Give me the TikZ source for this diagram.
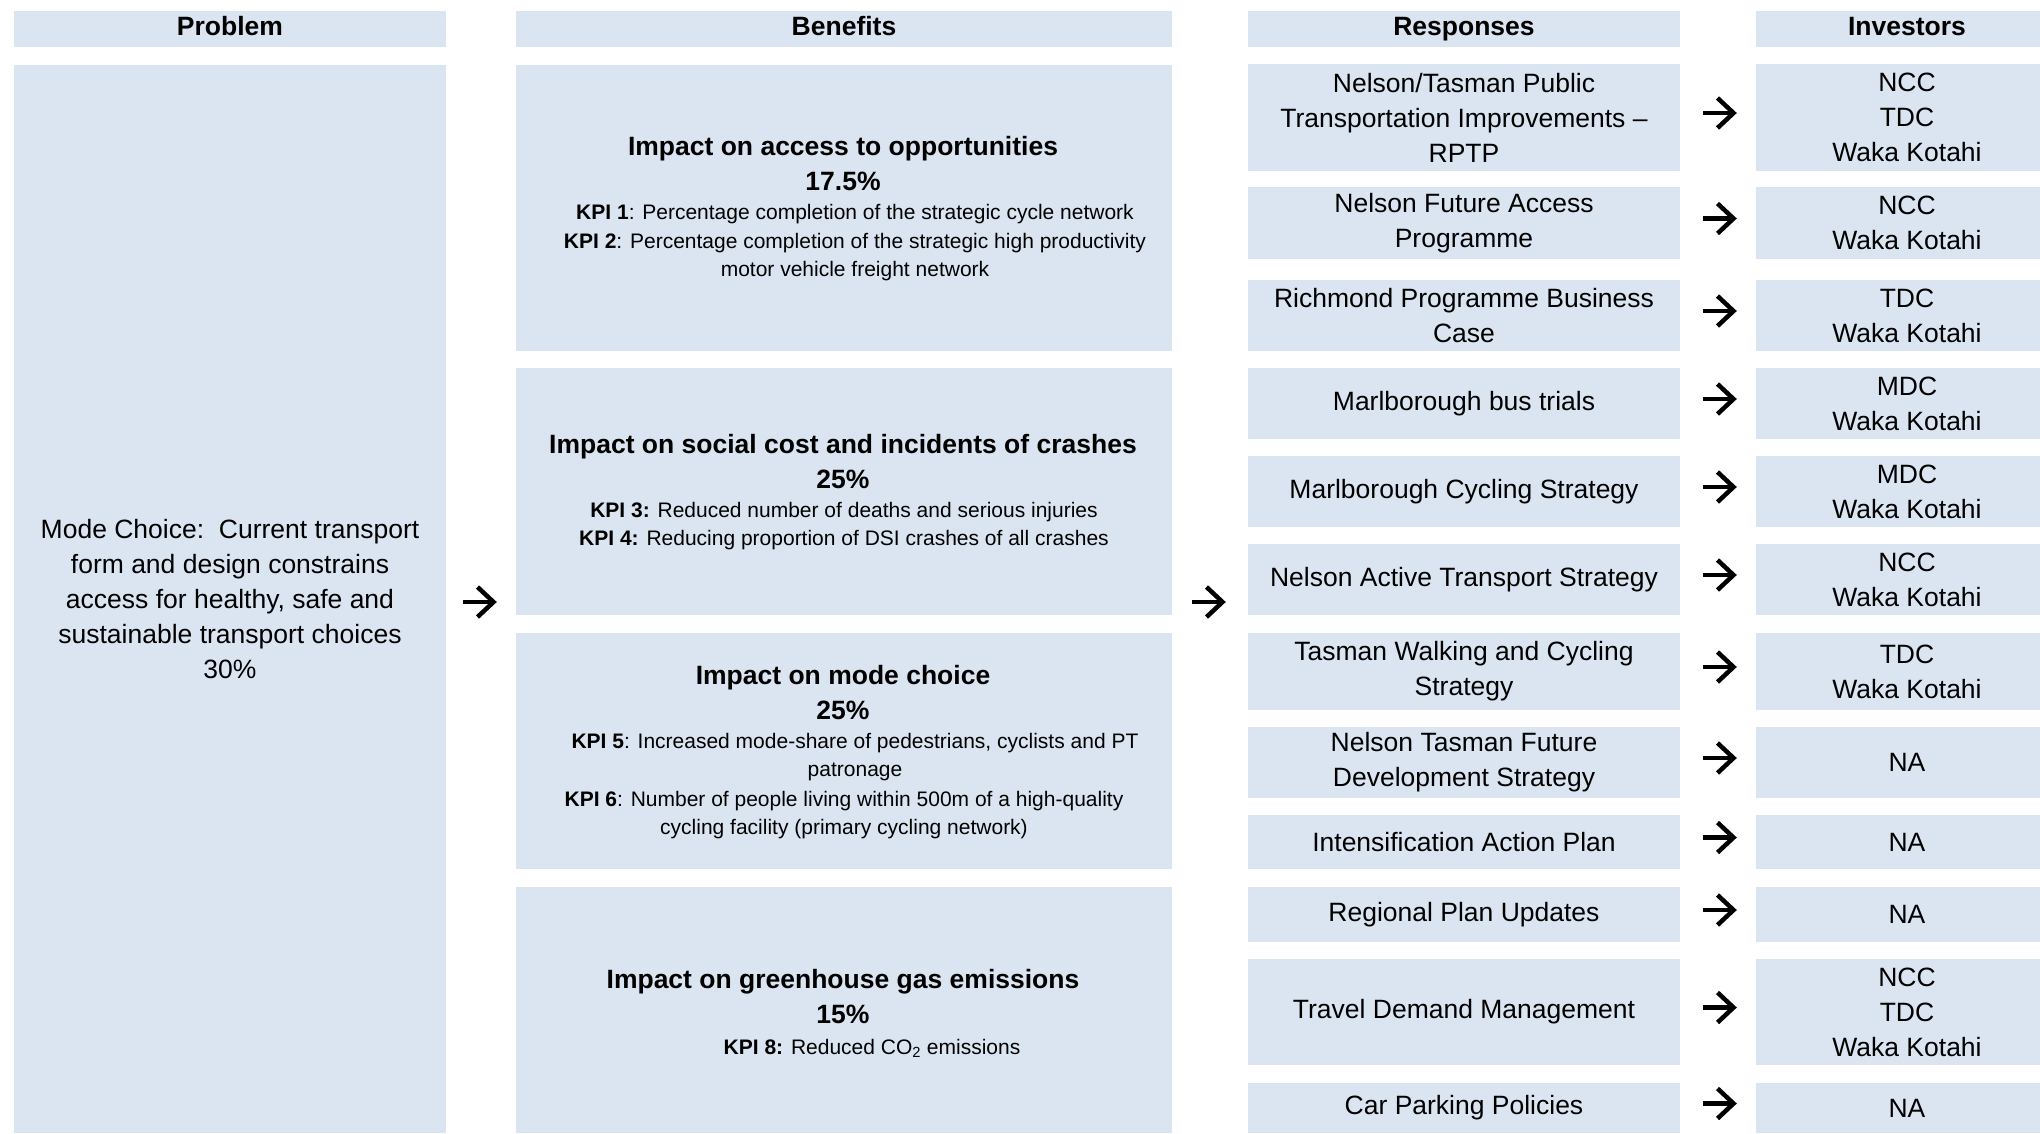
\documentclass[tikz,border=0pt]{standalone}
\usepackage{fontspec}
\setmainfont{Liberation Sans}
\usetikzlibrary{arrows.meta}
\definecolor{boxfill}{HTML}{DBE5F1}
\newcommand\mainsz{\fontsize{26.5pt}{35pt}\selectfont}
\newcommand\kpisz{\fontsize{21pt}{28.5pt}\selectfont}
\begin{document}
\begin{tikzpicture}[x=1pt,y=-1pt,
  box/.style={fill=boxfill, draw=none, inner sep=0pt, align=center, font=\mainsz},
  hdr/.style={box, font=\mainsz\bfseries, minimum height=36pt, text height=19pt, text depth=6pt},
  ttl/.style={font=\mainsz\bfseries, align=center, inner sep=0pt},
  kpi/.style={font=\kpisz, align=center, inner sep=0pt},
  arr/.style={line width=4.5pt, -{Straight Barb[length=16pt,width=30pt,line width=4.5pt]}}]
\useasboundingbox (0,0) rectangle (2040,1133);
\fill[white] (0,0) rectangle (2040,1133);
\clip (0,0) rectangle (2040,1133);

% headers
\node[hdr, minimum width=432pt] (ph) at (230,29) {Problem};
\node[hdr, minimum width=656pt] (bh) at (844,29) {Benefits};
\node[hdr, minimum width=432pt] (rh) at (1464,29) {Responses};
\node[hdr, minimum width=302pt] (ih) at (1907,29) {Investors};

% problem
\node[box, minimum width=432pt, minimum height=1068pt] (prob) at (230,599)
  {Mode Choice:\ \ Current transport\\form and design constrains\\access for healthy, safe and\\sustainable transport choices\\30\%};

% benefits
\node[box, minimum width=656pt, minimum height=286pt] (b1) at (844,207.5) {};
\node[box, minimum width=656pt, minimum height=247pt] (b2) at (844,491.5) {};
\node[box, minimum width=656pt, minimum height=236pt] (b3) at (844,751) {};
\node[box, minimum width=656pt, minimum height=246pt] (b4) at (844,1010) {};

\node[ttl] (b1t) at (843,163.5) {Impact on access to opportunities\\17.5\%};
\node[kpi] (b1k) at (855,243) {\textbf{KPI 1}: Percentage completion of the strategic cycle network\\\textbf{KPI 2}: Percentage completion of the strategic high productivity\\motor vehicle freight network};
\node[ttl] (b2t) at (843,461.5) {Impact on social cost and incidents of crashes\\25\%};
\node[kpi] (b2k) at (844,526) {\textbf{KPI 3:} Reduced number of deaths and serious injuries\\\textbf{KPI 4:} Reducing proportion of DSI crashes of all crashes};
\node[ttl] (b3t) at (843,693) {Impact on mode choice\\25\%};
\node[kpi] (b3k5) at (855,757) {\textbf{KPI 5}: Increased mode-share of pedestrians, cyclists and PT\\patronage};
\node[kpi] (b3k6) at (844,815) {\textbf{KPI 6}: Number of people living within 500m of a high-quality\\cycling facility (primary cycling network)};
\node[ttl] (b4t) at (843,997) {Impact on greenhouse gas emissions\\15\%};
\node[kpi] (b4k) at (872,1048) {\textbf{KPI 8:} Reduced CO\textsubscript{2} emissions};

% responses
\node[box, minimum width=432pt, minimum height=107pt] (r1) at (1464,117.5) {Nelson/Tasman Public\\Transportation Improvements \textendash\\RPTP};
\node[box, minimum width=432pt, minimum height=72pt] (r2) at (1464,223) {Nelson Future Access\\Programme};
\node[box, minimum width=432pt, minimum height=71pt] (r3) at (1464,315.5) {Richmond Programme Business\\Case};
\node[box, minimum width=432pt, minimum height=71pt] (r4) at (1464,403.5) {Marlborough bus trials};
\node[box, minimum width=432pt, minimum height=71pt] (r5) at (1464,491.5) {Marlborough Cycling Strategy};
\node[box, minimum width=432pt, minimum height=71pt] (r6) at (1464,579.5) {Nelson Active Transport Strategy};
\node[box, minimum width=432pt, minimum height=77pt] (r7) at (1464,671.5) {Tasman Walking and Cycling\\Strategy};
\node[box, minimum width=432pt, minimum height=71pt] (r8) at (1464,762.5) {Nelson Tasman Future\\Development Strategy};
\node[box, minimum width=432pt, minimum height=54pt] (r9) at (1464,842) {Intensification Action Plan};
\node[box, minimum width=432pt, minimum height=55pt] (r10) at (1464,914.5) {Regional Plan Updates};
\node[box, minimum width=432pt, minimum height=106pt] (r11) at (1464,1012) {Travel Demand Management};
\node[box, minimum width=432pt, minimum height=50pt] (r12) at (1464,1108) {Car Parking Policies};

% investors
\node[box, minimum width=302pt, minimum height=107pt] (i1) at (1907,117.5) {NCC\\TDC\\Waka Kotahi};
\node[box, minimum width=302pt, minimum height=72pt] (i2) at (1907,223) {NCC\\Waka Kotahi};
\node[box, minimum width=302pt, minimum height=71pt] (i3) at (1907,315.5) {TDC\\Waka Kotahi};
\node[box, minimum width=302pt, minimum height=71pt] (i4) at (1907,403.5) {MDC\\Waka Kotahi};
\node[box, minimum width=302pt, minimum height=71pt] (i5) at (1907,491.5) {MDC\\Waka Kotahi};
\node[box, minimum width=302pt, minimum height=71pt] (i6) at (1907,579.5) {NCC\\Waka Kotahi};
\node[box, minimum width=302pt, minimum height=77pt] (i7) at (1907,671.5) {TDC\\Waka Kotahi};
\node[box, minimum width=302pt, minimum height=71pt] (i8) at (1907,762.5) {NA};
\node[box, minimum width=302pt, minimum height=54pt] (i9) at (1907,842) {NA};
\node[box, minimum width=302pt, minimum height=55pt] (i10) at (1907,914.5) {NA};
\node[box, minimum width=302pt, minimum height=106pt] (i11) at (1907,1012) {NCC\\TDC\\Waka Kotahi};
\node[box, minimum width=302pt, minimum height=50pt] (i12) at (1907,1108) {NA};

% arrows
\foreach \i in {1,...,12}
  \draw[arr] ([xshift=23pt,yshift=4.5pt]r\i.east) -- ([xshift=-19pt,yshift=4.5pt]i\i.west);
\draw[arr] ([xshift=17pt,yshift=-3pt]prob.east) -- ([xshift=-19pt,yshift=-3pt]prob.east -| bh.west);
\draw[arr] ([xshift=20pt,yshift=-3pt]prob.east -| bh.east) -- ([xshift=-22pt,yshift=-3pt]prob.east -| rh.west);
\end{tikzpicture}
\end{document}
